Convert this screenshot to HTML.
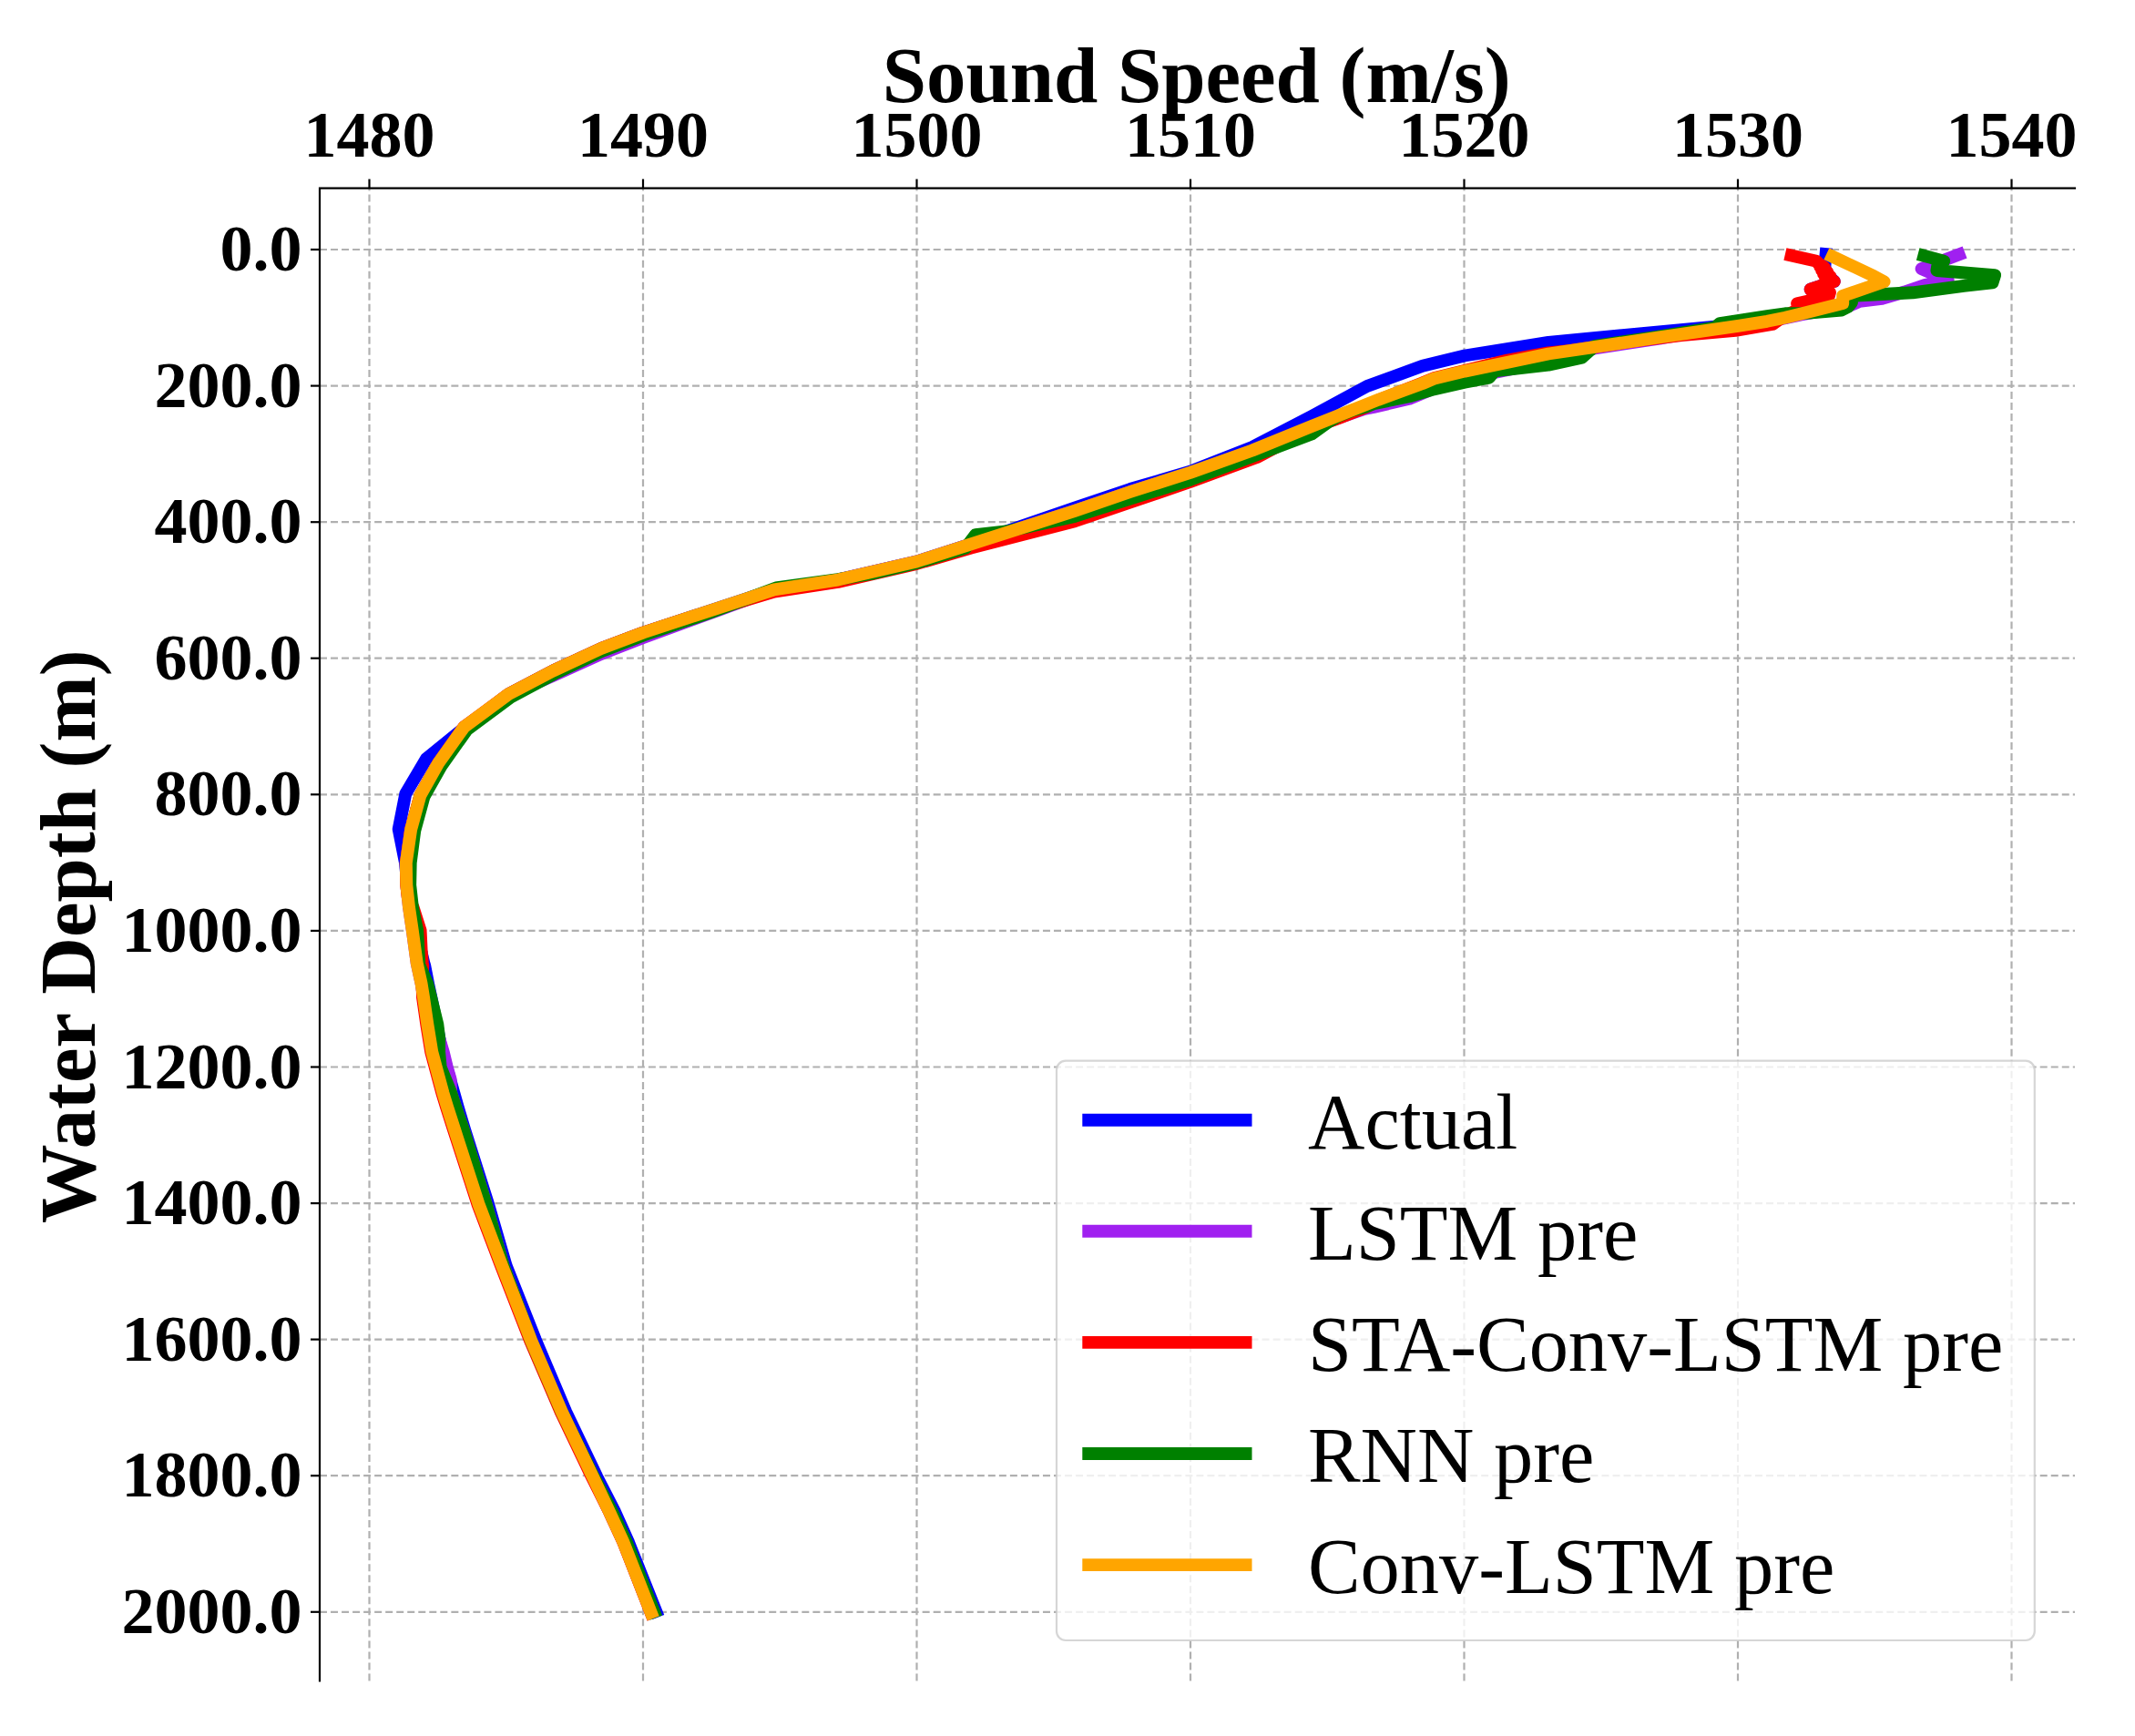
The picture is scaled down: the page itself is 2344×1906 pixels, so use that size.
<!DOCTYPE html>
<html><head><meta charset="utf-8"><title>Sound Speed Profile</title>
<style>
html,body{margin:0;padding:0;background:#fff;}
svg{display:block;}
text{font-family:"Liberation Serif",serif;fill:#000;}
.b{font-weight:bold;}
.tk{font-size:72px;font-weight:bold;}
.lb{font-size:86.8px;font-weight:bold;}
.lg{font-size:86.4px;}
.grid line{stroke:#b0b0b0;stroke-width:2.2;stroke-dasharray:8 4.03;}
.tick line{stroke:#000;stroke-width:2.2;}
.cv polyline{fill:none;stroke-width:13.9;stroke-linejoin:round;stroke-linecap:butt;}
</style></head><body>
<svg width="2344" height="1906" viewBox="0 0 2344 1906">
<rect x="0" y="0" width="2344" height="1906" fill="#ffffff"/>

<g class="grid">
<line x1="405.5" y1="1845.5" x2="405.5" y2="206.6"/>
<line x1="706.0" y1="1845.5" x2="706.0" y2="206.6"/>
<line x1="1006.5" y1="1845.5" x2="1006.5" y2="206.6"/>
<line x1="1307.0" y1="1845.5" x2="1307.0" y2="206.6"/>
<line x1="1607.5" y1="1845.5" x2="1607.5" y2="206.6"/>
<line x1="1908.0" y1="1845.5" x2="1908.0" y2="206.6"/>
<line x1="2208.5" y1="1845.5" x2="2208.5" y2="206.6"/>
<line x1="351.0" y1="274.0" x2="2278.0" y2="274.0"/>
<line x1="351.0" y1="423.6" x2="2278.0" y2="423.6"/>
<line x1="351.0" y1="573.2" x2="2278.0" y2="573.2"/>
<line x1="351.0" y1="722.7" x2="2278.0" y2="722.7"/>
<line x1="351.0" y1="872.3" x2="2278.0" y2="872.3"/>
<line x1="351.0" y1="1021.9" x2="2278.0" y2="1021.9"/>
<line x1="351.0" y1="1171.5" x2="2278.0" y2="1171.5"/>
<line x1="351.0" y1="1321.1" x2="2278.0" y2="1321.1"/>
<line x1="351.0" y1="1470.6" x2="2278.0" y2="1470.6"/>
<line x1="351.0" y1="1620.2" x2="2278.0" y2="1620.2"/>
<line x1="351.0" y1="1769.8" x2="2278.0" y2="1769.8"/>
</g>
<g class="cv">
<polyline stroke="#0000ff" points="2005.2,272.2 2003.5,291.0 2003.7,297.0 2010.5,306.0 2013.8,309.0 1987.7,317.7 2007.5,325.5 1977.5,344.4 1960.0,348.7 1940.0,352.5 1880.2,358.9 1700.0,375.8 1608.0,390.5 1561.8,401.7 1500.9,424.0 1440.0,457.0 1374.9,491.0 1306.7,517.7 1240.9,537.0 1180.0,557.5 1108.8,582.0 1066.1,597.4 1006.5,616.5 920.0,636.6 850.0,647.3 706.3,694.5 660.0,712.0 607.0,736.6 558.3,762.2 507.0,801.5 468.2,832.8 445.3,871.5 437.7,910.3 445.0,947.4 447.3,971.8 451.5,996.1 456.8,1021.7 465.4,1057.5 466.2,1060.0 470.1,1080.0 473.3,1094.9 479.4,1125.0 485.3,1155.0 490.3,1171.8 498.3,1199.9 502.5,1214.8 510.0,1240.0 535.9,1321.7 555.7,1389.9 588.0,1471.4 621.2,1549.9 655.4,1621.6 675.1,1660.0 690.2,1693.7 722.8,1775.5"/>
<polyline stroke="#a020f0" points="2157.1,277.1 2109.6,295.1 2138.7,307.5 2113.0,313.0 2091.0,320.5 2066.2,327.9 2041.5,330.8 2030.0,336.0 1977.5,345.5 1940.0,353.5 1908.2,358.0 1882.0,361.0 1821.8,371.6 1751.0,382.3 1700.0,397.0 1641.0,409.0 1608.0,418.0 1574.0,426.5 1547.2,437.8 1508.2,446.9 1498.0,449.0 1440.0,469.0 1374.9,495.0 1306.7,519.5 1240.9,540.0 1180.0,560.8 1066.1,597.4 1006.5,616.5 920.0,636.6 850.0,647.3 790.0,669.5 706.3,700.0 660.0,718.0 607.0,742.0 575.0,756.0 558.3,764.0 509.6,798.1 481.0,838.3 461.5,873.0 451.1,910.9 445.8,947.4 446.3,971.8 449.0,996.1 452.8,1021.7 457.7,1057.5 462.6,1080.0 465.0,1094.9 476.3,1125.0 482.2,1140.0 486.7,1155.0 490.8,1171.8 494.6,1185.0 495.2,1199.9 500.0,1214.8 508.7,1240.0 533.6,1321.7 552.7,1389.9 583.0,1471.4 616.7,1549.9 650.9,1621.6 669.1,1660.0 684.6,1693.7 717.2,1776.9"/>
<polyline stroke="#ff0000" points="1959.9,279.0 1994.4,286.8 1996.4,289.3 2003.0,293.8 1998.3,293.1 2006.3,298.7 2000.2,296.8 2009.6,303.6 2002.1,300.6 2012.8,308.4 2003.9,304.3 2013.8,309.0 1987.7,317.7 2009.0,321.0 2007.5,325.5 1973.1,333.2 1974.5,339.7 1958.0,347.5 1946.0,356.0 1940.0,357.0 1908.2,362.5 1846.0,368.1 1797.0,374.0 1725.0,384.8 1700.0,387.3 1655.0,395.5 1608.0,407.1 1574.0,415.3 1561.8,420.5 1513.0,439.5 1500.0,447.0 1470.0,459.0 1440.0,470.0 1380.0,502.0 1306.7,529.0 1240.9,551.5 1180.0,572.2 1066.1,601.6 1006.5,618.9 920.0,639.0 850.0,649.7 790.0,667.5 706.3,694.5 660.0,712.0 607.0,736.6 558.3,762.2 509.6,798.1 481.0,838.3 461.5,873.0 451.1,910.9 445.8,947.4 446.3,971.8 447.8,985.0 453.5,996.1 461.6,1021.7 462.7,1045.0 463.9,1057.5 464.3,1060.0 463.6,1071.0 463.6,1080.0 464.0,1094.9 468.3,1125.0 473.2,1155.0 477.7,1171.8 485.3,1199.9 489.8,1214.8 497.9,1240.0 524.3,1321.7 550.1,1389.9 581.9,1471.4 615.6,1549.9 649.8,1621.6 669.1,1660.0 684.6,1693.7 717.2,1776.9"/>
<polyline stroke="#008000" points="2105.7,279.0 2134.2,286.6 2127.5,290.2 2126.4,297.0 2190.1,302.1 2187.5,310.3 2156.0,313.8 2100.0,321.3 2033.0,324.8 2033.0,332.0 2029.0,336.8 2021.7,340.5 1983.1,343.9 1960.0,344.3 1940.0,347.1 1888.2,355.0 1882.7,359.7 1821.8,369.4 1751.1,379.8 1736.5,392.8 1700.0,400.6 1641.0,407.3 1634.9,414.6 1608.0,419.8 1574.0,427.4 1549.6,434.7 1508.2,443.3 1498.5,446.9 1485.0,450.5 1470.0,456.5 1458.0,463.5 1440.0,476.5 1306.7,526.8 1180.0,567.0 1127.0,578.6 1108.8,582.8 1071.0,587.1 1060.0,601.7 1006.5,618.1 956.5,630.0 920.0,636.2 852.0,645.5 780.0,672.5 706.3,697.5 660.0,715.2 608.6,739.8 560.4,765.6 512.6,801.2 484.6,840.6 465.5,874.6 455.3,911.8 450.7,947.4 450.2,971.8 452.9,996.1 458.2,1021.7 460.3,1057.5 460.6,1060.0 469.2,1080.0 473.1,1094.9 480.4,1125.0 482.2,1140.0 482.1,1155.0 483.7,1171.8 495.2,1199.9 500.0,1214.8 508.7,1240.0 533.6,1321.7 552.7,1389.9 583.0,1471.4 616.7,1549.9 651.9,1621.6 672.1,1660.0 688.0,1693.7 720.6,1776.0"/>
<polyline stroke="#ffa500" points="2005.4,278.6 2057.0,303.0 2068.6,309.3 2023.2,324.9 2023.2,333.0 1977.5,344.4 1960.0,348.7 1940.0,352.8 1908.2,357.8 1821.8,370.4 1700.0,388.5 1608.0,407.6 1574.0,415.8 1561.8,421.0 1513.0,438.9 1440.0,468.0 1374.9,494.5 1306.7,518.9 1240.9,540.0 1180.0,560.8 1066.1,597.4 1006.5,616.5 920.0,636.6 850.0,647.3 706.3,694.5 660.0,712.0 607.0,736.6 558.3,762.2 509.6,798.1 481.0,838.3 461.5,873.0 451.1,910.9 445.8,947.4 446.3,971.8 449.0,996.1 452.8,1021.7 457.7,1057.5 462.6,1080.0 465.0,1094.9 469.4,1125.0 474.3,1155.0 478.8,1171.8 486.4,1199.9 490.9,1214.8 499.0,1240.0 525.4,1321.7 551.2,1389.9 583.0,1471.4 616.7,1549.9 650.9,1621.6 669.1,1660.0 684.6,1693.7 717.2,1776.9"/>
</g>
<path d="M351.0 1845.5 L351.0 206.6 L2278.0 206.6" fill="none" stroke="#000" stroke-width="2.2" stroke-linecap="square"/>
<g class="tick">
<line x1="405.5" y1="206.6" x2="405.5" y2="196.6"/>
<line x1="706.0" y1="206.6" x2="706.0" y2="196.6"/>
<line x1="1006.5" y1="206.6" x2="1006.5" y2="196.6"/>
<line x1="1307.0" y1="206.6" x2="1307.0" y2="196.6"/>
<line x1="1607.5" y1="206.6" x2="1607.5" y2="196.6"/>
<line x1="1908.0" y1="206.6" x2="1908.0" y2="196.6"/>
<line x1="2208.5" y1="206.6" x2="2208.5" y2="196.6"/>
<line x1="351.0" y1="274.0" x2="341.0" y2="274.0"/>
<line x1="351.0" y1="423.6" x2="341.0" y2="423.6"/>
<line x1="351.0" y1="573.2" x2="341.0" y2="573.2"/>
<line x1="351.0" y1="722.7" x2="341.0" y2="722.7"/>
<line x1="351.0" y1="872.3" x2="341.0" y2="872.3"/>
<line x1="351.0" y1="1021.9" x2="341.0" y2="1021.9"/>
<line x1="351.0" y1="1171.5" x2="341.0" y2="1171.5"/>
<line x1="351.0" y1="1321.1" x2="341.0" y2="1321.1"/>
<line x1="351.0" y1="1470.6" x2="341.0" y2="1470.6"/>
<line x1="351.0" y1="1620.2" x2="341.0" y2="1620.2"/>
<line x1="351.0" y1="1769.8" x2="341.0" y2="1769.8"/>
</g>
<text class="tk" x="405.5" y="171.6" text-anchor="middle">1480</text>
<text class="tk" x="706.0" y="171.6" text-anchor="middle">1490</text>
<text class="tk" x="1006.5" y="171.6" text-anchor="middle">1500</text>
<text class="tk" x="1307.0" y="171.6" text-anchor="middle">1510</text>
<text class="tk" x="1607.5" y="171.6" text-anchor="middle">1520</text>
<text class="tk" x="1908.0" y="171.6" text-anchor="middle">1530</text>
<text class="tk" x="2208.5" y="171.6" text-anchor="middle">1540</text>
<text class="tk" x="331.5" y="297.0" text-anchor="end">0.0</text>
<text class="tk" x="331.5" y="446.6" text-anchor="end">200.0</text>
<text class="tk" x="331.5" y="596.2" text-anchor="end">400.0</text>
<text class="tk" x="331.5" y="745.7" text-anchor="end">600.0</text>
<text class="tk" x="331.5" y="895.3" text-anchor="end">800.0</text>
<text class="tk" x="331.5" y="1044.9" text-anchor="end">1000.0</text>
<text class="tk" x="331.5" y="1194.5" text-anchor="end">1200.0</text>
<text class="tk" x="331.5" y="1344.1" text-anchor="end">1400.0</text>
<text class="tk" x="331.5" y="1493.6" text-anchor="end">1600.0</text>
<text class="tk" x="331.5" y="1643.2" text-anchor="end">1800.0</text>
<text class="tk" x="331.5" y="1792.8" text-anchor="end">2000.0</text>
<text class="lb" x="1313.7" y="112.4" text-anchor="middle">Sound Speed (m/s)</text>
<text class="lb" transform="translate(103.5 1028.3) rotate(-90)" text-anchor="middle">Water Depth (m)</text>
<rect x="1160" y="1164.7" width="1073.8" height="636.3" rx="10" ry="10" fill="#ffffff" fill-opacity="0.8" stroke="#cccccc" stroke-opacity="0.8" stroke-width="2.2"/>
<line x1="1188.3" y1="1229.7" x2="1374.5" y2="1229.7" stroke="#0000ff" stroke-width="13.9"/>
<text class="lg" x="1436" y="1260.7">Actual</text>
<line x1="1188.3" y1="1351.8" x2="1374.5" y2="1351.8" stroke="#a020f0" stroke-width="13.9"/>
<text class="lg" x="1436" y="1382.8">LSTM pre</text>
<line x1="1188.3" y1="1473.9" x2="1374.5" y2="1473.9" stroke="#ff0000" stroke-width="13.9"/>
<text class="lg" x="1436" y="1504.9">STA-Conv-LSTM pre</text>
<line x1="1188.3" y1="1596.0" x2="1374.5" y2="1596.0" stroke="#008000" stroke-width="13.9"/>
<text class="lg" x="1436" y="1627.0">RNN pre</text>
<line x1="1188.3" y1="1718.1" x2="1374.5" y2="1718.1" stroke="#ffa500" stroke-width="13.9"/>
<text class="lg" x="1436" y="1749.1">Conv-LSTM pre</text>
</svg></body></html>
